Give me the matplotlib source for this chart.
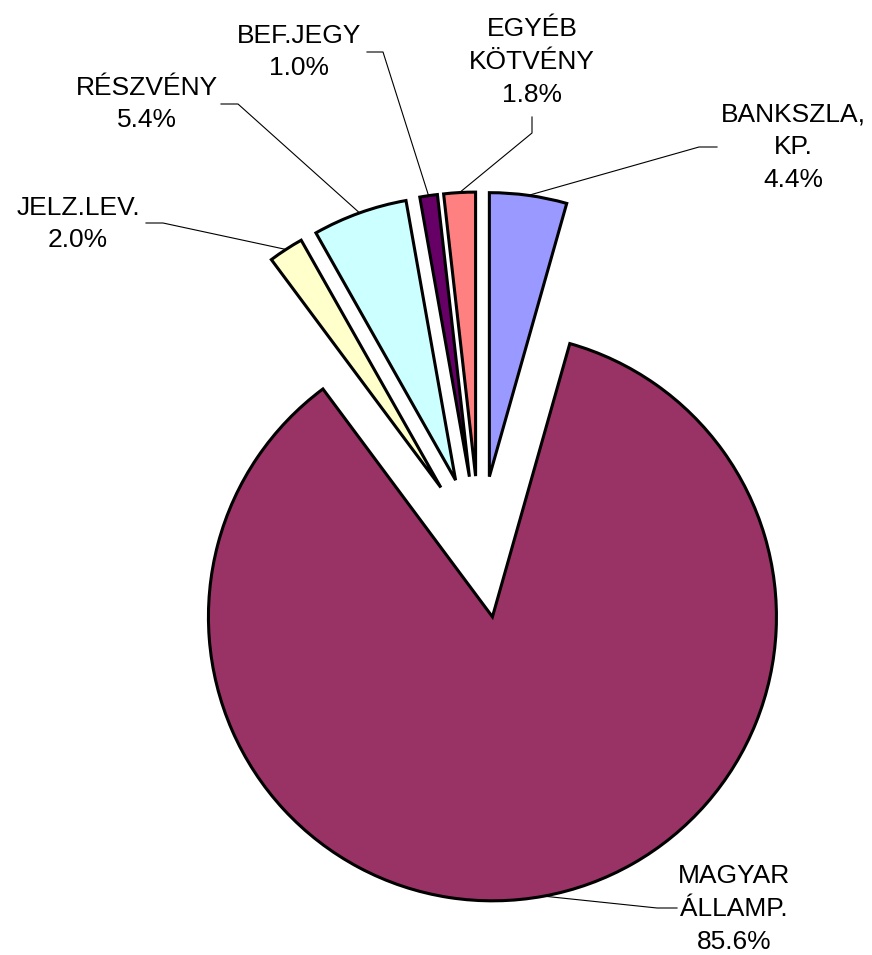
import matplotlib.pyplot as plt
import numpy as np

plt.rcParams['font.family'] = ['Liberation Sans', 'DejaVu Sans']

# slices, clockwise from 12 o'clock
labels = ['BANKSZLA,\nKP.', 'MAGYAR\nÁLLAMP.', 'JELZ.LEV.', 'RÉSZVÉNY', 'BEF.JEGY', 'EGYÉB\nKÖTVÉNY']
shares = [4.4, 85.6, 2.0, 5.4, 1.0, 1.8]
pct_text = ['4.4%', '85.6%', '2.0%', '5.4%', '1.0%', '1.8%']
colors = ['#9999FF', '#993366', '#FFFFCC', '#CCFFFF', '#660066', '#FF8080']

fig = plt.figure(figsize=(8.72, 9.55), dpi=100)
ax = fig.add_axes([0, 0, 1, 1])

wedges, _ = ax.pie(shares, colors=colors, startangle=90, counterclock=False,
                   explode=[0.25] * len(shares), radius=1.0,
                   wedgeprops=dict(edgecolor='black', linewidth=2.2))

# pixel -> data helper (pie centre at px (479.6, 547), radius 284 px)
def px(x, y):
    return (x - 479.6) / 284.0, (547 - y) / 284.0

# label box centre, and leader elbow + end (image px)
label_pos = [(793, 147), (734, 909), (78, 224), (147, 104), (299, 52), (532, 62)]
elbows = [((699, 147), (717, 147)), ((657, 908), (677, 908)), ((163, 223), (146, 223)),
          ((238, 104), (221, 104)), ((383, 52), (367, 52)), ((532, 133), (532, 117))]

for w, lab, pc, lp, (e1, e2) in zip(wedges, labels, pct_text, label_pos, elbows):
    th = np.deg2rad((w.theta1 + w.theta2) / 2)
    cx, cy = w.center
    ax_x = cx + w.r * np.cos(th)
    ax_y = cy + w.r * np.sin(th)
    p1 = px(*e1)
    p2 = px(*e2)
    ax.plot([ax_x, p1[0], p2[0]], [ax_y, p1[1], p2[1]], color='black', lw=0.8)
    tx, ty = px(*lp)
    ax.text(tx, ty, lab + '\n' + pc, ha='center', va='center', fontsize=19,
            linespacing=1.45)

ax.set_xlim(-479.6 / 284, (872 - 479.6) / 284)
ax.set_ylim(-(955 - 547) / 284, 547 / 284)
ax.set_aspect('equal')
ax.axis('off')

fig.savefig('out.png', dpi=100)
